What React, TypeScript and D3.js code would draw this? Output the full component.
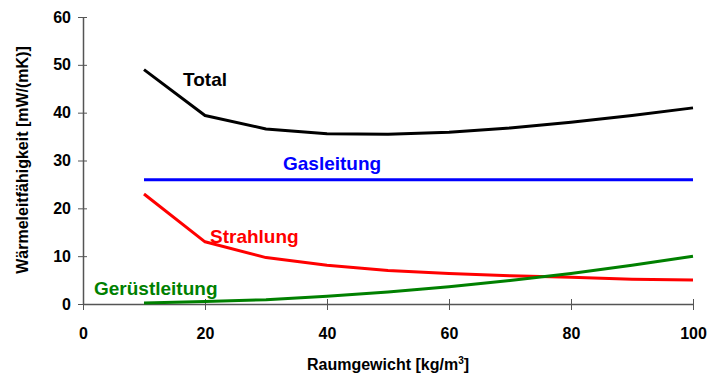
import React, { useEffect, useRef } from "react";
import * as d3 from "d3";

// Raumgewicht [kg/m3]
const density = [10, 20, 30, 40, 50, 60, 70, 80, 90, 100];
const total = [49, 39.4, 36.6, 35.6, 35.5, 35.9, 36.8, 38, 39.4, 41];
const gasleitung = [26, 26, 26, 26, 26, 26, 26, 26, 26, 26];
const strahlung = [23, 13, 9.7, 8.1, 7, 6.4, 5.9, 5.6, 5.2, 5];
const geruestleitung = [0.2, 0.5, 0.9, 1.6, 2.5, 3.6, 4.9, 6.4, 8.1, 10];
const xTicks = [0, 20, 40, 60, 80, 100];
const yTicks = [0, 10, 20, 30, 40, 50, 60];

const series = [
  { name: "Total", values: total, color: "#000000", lx: 183, ly: 86 },
  { name: "Gasleitung", values: gasleitung, color: "#0000ff", lx: 283, ly: 170 },
  { name: "Strahlung", values: strahlung, color: "#ff0000", lx: 210, ly: 243 },
  { name: "Gerüstleitung", values: geruestleitung, color: "#008000", lx: 94, ly: 295 },
];

const App = () => {
  const svgRef = useRef<SVGSVGElement>(null);
  const width = 710;
  const height = 379;

  useEffect(() => {
    const svg = d3.select(svgRef.current);
    svg.selectAll("*").remove();

    const margin = { top: 17, right: 17, bottom: 75, left: 83 };
    const innerWidth = width - margin.left - margin.right;
    const innerHeight = height - margin.top - margin.bottom;

    const g = svg
      .append("g")
      .attr("transform", `translate(${margin.left}, ${margin.top})`);

    const xScale = d3.scaleLinear().domain([0, 100]).range([0, innerWidth]);
    const yScale = d3.scaleLinear().domain([0, 60]).range([innerHeight, 0]);

    const font = "Liberation Sans, Arial, sans-serif";

    // x-axis (ticks crossing the axis line)
    const xAxis = g
      .append("g")
      .attr("transform", `translate(0, ${innerHeight})`)
      .call(d3.axisBottom(xScale).tickValues(xTicks).tickSize(6).tickSizeOuter(0).tickPadding(18));
    xAxis.selectAll(".tick line").attr("y1", -5).attr("stroke", "#555");
    xAxis.select(".domain").attr("stroke", "#555").attr("stroke-width", 1.5);
    xAxis
      .selectAll("text")
      .style("font-family", font)
      .style("font-size", "16px")
      .style("font-weight", "bold")
      .attr("fill", "#000");

    // y-axis
    const yAxis = g
      .append("g")
      .call(d3.axisLeft(yScale).tickValues(yTicks).tickSize(5).tickSizeOuter(0).tickPadding(7));
    yAxis.selectAll(".tick line").attr("x1", -5).attr("x2", 4).attr("stroke", "#555");
    yAxis.select(".domain").attr("stroke", "#555").attr("stroke-width", 1.5);
    yAxis
      .selectAll("text")
      .style("font-family", font)
      .style("font-size", "16px")
      .style("font-weight", "bold")
      .attr("fill", "#000");

    // series lines
    const line = d3
      .line<number>()
      .x((_, i) => xScale(density[i]))
      .y((d) => yScale(d));

    series.forEach((s) => {
      g.append("path")
        .datum(s.values)
        .attr("fill", "none")
        .attr("stroke", s.color)
        .attr("stroke-width", 3)
        .attr("stroke-linejoin", "round")
        .attr("d", line);

      svg
        .append("text")
        .attr("x", s.lx)
        .attr("y", s.ly)
        .style("font-family", font)
        .style("font-size", "19px")
        .style("font-weight", "bold")
        .attr("fill", s.color)
        .text(s.name);
    });

    // x-axis label
    const xLabel = svg
      .append("text")
      .attr("x", margin.left + innerWidth / 2)
      .attr("y", 370)
      .attr("text-anchor", "middle")
      .style("font-family", font)
      .style("font-size", "16px")
      .style("font-weight", "bold");
    xLabel.append("tspan").text("Raumgewicht [kg/m");
    xLabel.append("tspan").attr("dy", -6).style("font-size", "10px").text("3");
    xLabel.append("tspan").attr("dy", 6).text("]");

    // y-axis label
    svg
      .append("text")
      .attr("transform", "rotate(-90)")
      .attr("x", -160)
      .attr("y", 28)
      .attr("text-anchor", "middle")
      .style("font-family", font)
      .style("font-size", "16px")
      .style("font-weight", "bold")
      .text("Wärmeleitfähigkeit [mW/(mK)]");
  }, []);

  return (
    <div style={{ position: "absolute", left: 0, top: 0 }}>
      <svg ref={svgRef} width={width} height={height} style={{ display: "block", background: "#fff" }}></svg>
    </div>
  );
};

export default App;
